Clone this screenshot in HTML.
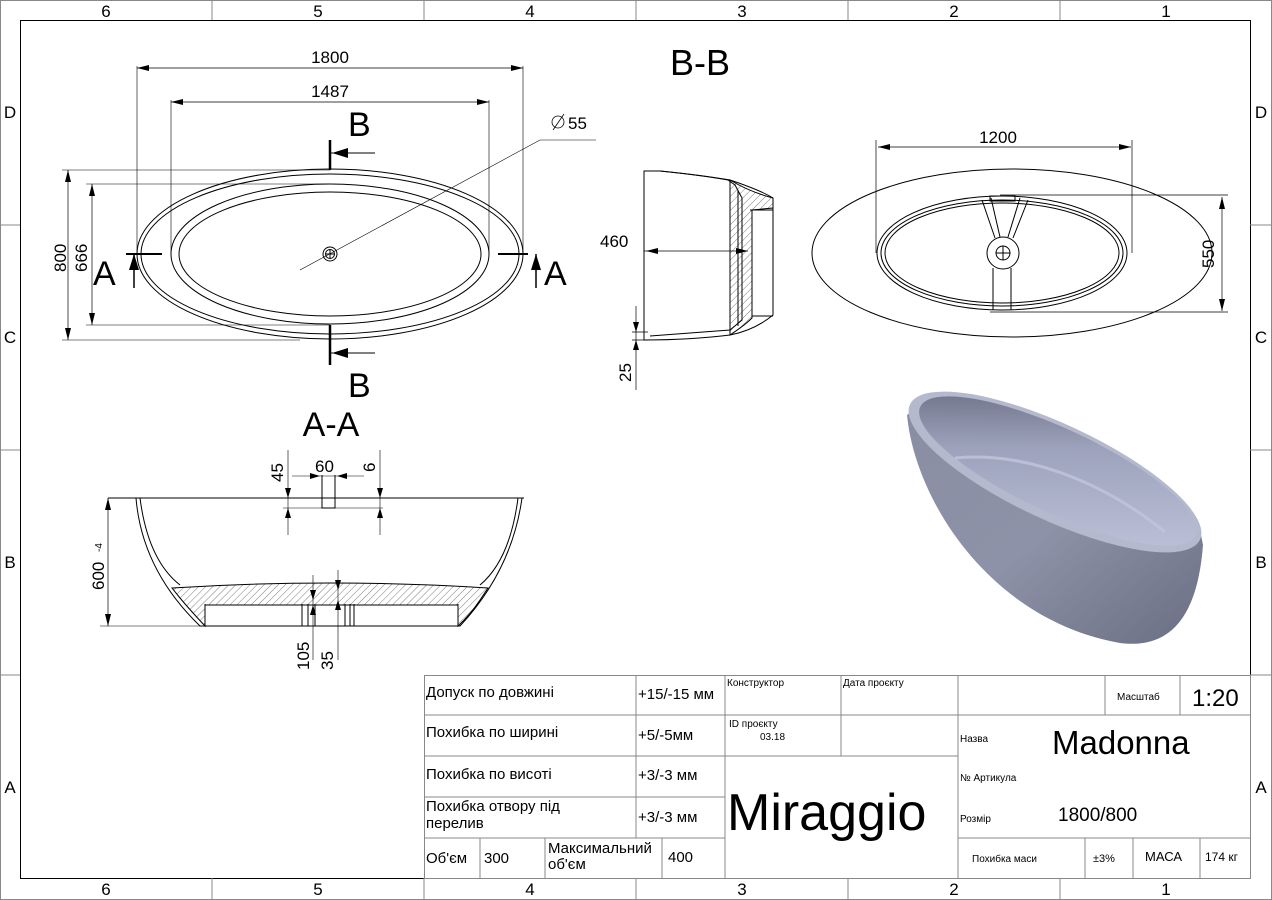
<!DOCTYPE html>
<html><head><meta charset="utf-8"><style>
html,body{margin:0;padding:0;background:#fff}
svg{display:block}
text{font-family:"Liberation Sans",sans-serif;fill:#000}
.t{font-family:"Liberation Sans","DejaVu Sans",sans-serif;font-size:14px}
</style></head><body>
<svg width="1272" height="900" viewBox="0 0 1272 900" xmlns="http://www.w3.org/2000/svg">
<defs>
<pattern id="h" width="5" height="5" patternUnits="userSpaceOnUse" patternTransform="rotate(45)"><line x1="0" y1="0" x2="0" y2="5" stroke="#444" stroke-width="0.7"/></pattern>
<linearGradient id="g1" x1="0" y1="0" x2="1" y2="1"><stop offset="0" stop-color="#8a8ea3"/><stop offset="0.5" stop-color="#8e92a8"/><stop offset="1" stop-color="#6a6e82"/></linearGradient>
<linearGradient id="g2" x1="0" y1="0" x2="1" y2="0.6"><stop offset="0" stop-color="#5f6376"/><stop offset="0.45" stop-color="#9da2bc"/><stop offset="1" stop-color="#b9bed6"/></linearGradient>
</defs>
<g fill="none" stroke="#000" stroke-width="1">
<rect x="0.5" y="0.5" width="1271" height="899" stroke="#888"/>
<rect x="20.5" y="20.5" width="1230" height="858"/>
<path d="M212 0V20M424 0V20M636 0V20M848 0V20M1060 0V20M212 878V899M424 878V899M636 878V899M848 878V899M1060 878V899M0 225H20M0 450H20M0 675H20M1250 225H1272M1250 450H1272M1250 675H1272" stroke="#888"/>
</g>
<g font-size="17" text-anchor="middle">
<text x="106" y="17">6</text><text x="318" y="17">5</text><text x="530" y="17">4</text><text x="742" y="17">3</text><text x="954" y="17">2</text><text x="1166" y="17">1</text>
<text x="106" y="895">6</text><text x="318" y="895">5</text><text x="530" y="895">4</text><text x="742" y="895">3</text><text x="954" y="895">2</text><text x="1166" y="895">1</text>
<text x="10" y="118">D</text><text x="10" y="343">C</text><text x="10" y="568">B</text><text x="10" y="793">A</text>
<text x="1261" y="118">D</text><text x="1261" y="343">C</text><text x="1261" y="568">B</text><text x="1261" y="793">A</text>
</g>

<!-- top view -->
<g fill="none" stroke="#000" stroke-width="1">
<ellipse cx="330" cy="254" rx="193" ry="85"/>
<ellipse cx="330" cy="254" rx="189" ry="80"/>
<ellipse cx="330" cy="254" rx="159" ry="70"/>
<ellipse cx="330" cy="254" rx="151" ry="62"/>
<circle cx="330" cy="254" r="7"/><circle cx="330" cy="254" r="4.5"/>
<path d="M325.5 254H334.5M330 249.5V258.5"/>
<path d="M137 66V254M523 66V254M171 100V254M489 100V254" stroke-width="0.6"/>
<path d="M137 68H523M171 102H489" stroke-width="0.7"/>
<path d="M62 170H330M62 340H300M86 184H330M86 325H330" stroke-width="0.6"/>
<path d="M68 170V340M92 184V325" stroke-width="0.7"/>
<path d="M300 270L540 140H596" stroke-width="0.6"/>
<path d="M330 140V170M330 325V365M330 340V352" stroke-width="2.5"/>
<path d="M330 153H375M330 353H375" stroke-width="1"/>
<path d="M126 254H162M498 254H528" stroke-width="2"/>
<path d="M134 254V288M536 254V288" stroke-width="1.5"/>
</g>
<g fill="#000">
<path d="M137 68l12-3v6zM523 68l-12-3v6zM171 102l12-3v6zM489 102l-12-3v6z"/>
<path d="M68 170l-3 12h6zM68 340l-3-12h6zM92 184l-3 12h6zM92 325l-3-12h6z"/>
<path d="M332 153l16-5v10zM332 353l16-5v10zM134 254l-5 16h10zM536 254l-5 16h10z"/>
</g>
<text x="330" y="63" font-size="17" text-anchor="middle">1800</text>
<text x="330" y="97" font-size="17" text-anchor="middle">1487</text>
<text x="348" y="136" font-size="34">B</text>
<text x="348" y="397" font-size="34">B</text>
<text x="93" y="285" font-size="34">A</text>
<text x="544" y="285" font-size="34">A</text>
<text x="568" y="129" font-size="17">55</text>
<g fill="none" stroke="#000" stroke-width="0.8"><circle cx="558" cy="122" r="6"/><path d="M553 130L564 114"/></g>
<text transform="translate(66 272) rotate(-90)" font-size="17">800</text>
<text transform="translate(87 272) rotate(-90)" font-size="17">666</text>
<text x="700" y="75" font-size="36" text-anchor="middle">B-B</text>
<text x="331" y="436" font-size="34" text-anchor="middle">A-A</text>

<!-- B-B section -->
<g fill="none" stroke="#000" stroke-width="1">
<path d="M644 171H660Q700 175 730 180Q760 190 773 198V315Q755 330 730 335Q690 340 644 340Z"/>
<path d="M730 180Q750 192 773 198V208L752 210V318Q745 325 730 335Z" fill="url(#h)"/>
<path d="M660 171Q700 175 728 180L735 185L742 198V320L730 330L650 336" />
<path d="M738 190V326M750 210H773M752 316H773"/>
<path d="M644 251H748" stroke-width="0.7"/>
<path d="M636 306V390M632 332H648M632 340H648" stroke-width="0.7"/>
</g>
<path d="M646 251l12-3v6zM748 251l-12-3v6zM636 332l-3-10h6zM636 340l-3 10h6z" fill="#000"/>
<text x="600" y="247" font-size="17">460</text>
<text transform="translate(631 382) rotate(-90)" font-size="17">25</text>

<!-- top right view -->
<g fill="none" stroke="#000" stroke-width="1">
<ellipse cx="1012" cy="253" rx="200" ry="84"/>
<ellipse cx="1002" cy="253" rx="125" ry="57"/>
<ellipse cx="1002" cy="253" rx="121" ry="53"/>
<ellipse cx="1002" cy="253" rx="117" ry="50"/>
<circle cx="1003" cy="253" r="16"/><circle cx="1003" cy="253" r="7"/>
<path d="M996 253H1010M1003 246V260"/>
<path d="M982 200L995 238M991 198L1000 237M1028 200L1013 238M1020 198L1008 237M993 268V310M1011 268V310"/>
<rect x="990" y="196" width="25" height="5"/>
<path d="M876 140V253M1132 140V253M878 147H1131M1000 195H1228M990 312H1228M1222 197V311" stroke-width="0.7"/>
</g>
<path d="M878 147l12-3v6zM1131 147l-12-3v6zM1222 197l-3 12h6zM1222 311l-3-12h6z" fill="#000"/>
<text x="998" y="143" font-size="17" text-anchor="middle">1200</text>
<text transform="translate(1214 268) rotate(-90)" font-size="17">550</text>

<!-- 3D -->
<path d="M907 415C915 500 990 620 1120 643C1175 650 1198 610 1203 545L1200 530L920 405Z" fill="url(#g1)"/>
<ellipse cx="1055" cy="472" rx="160" ry="48" transform="rotate(25 1055 472)" fill="#b5b9cd"/>
<ellipse cx="1058" cy="471" rx="152" ry="42" transform="rotate(25 1058 471)" fill="url(#g2)"/>
<path d="M955 458C1040 450 1120 495 1165 532" fill="none" stroke="#c2c6dc" stroke-width="3" opacity="0.8"/>

<!-- A-A section -->
<g fill="none" stroke="#000" stroke-width="1">
<path d="M108 498H524"/>
<path d="M136 498Q142 570 200 626H460Q512 570 522 498"/>
<path d="M140 498Q148 560 180 585M518 498Q510 560 480 585"/>
<path d="M172 588Q330 578 488 588L480 600Q470 615 458 626V605H205V626Q190 610 180 598Z" fill="url(#h)"/>
<path d="M205 604V626M458 604V626M302 604V626M308 604V626M350 604V626M354 604V626M315 604V626H345V604"/>
<path d="M100 626H210M160 498H136" stroke-width="0.6"/>
<path d="M108 498V626" stroke-width="0.7"/>
<path d="M322 475V508H335V475" />
<path d="M283 508H383M288 450V535M380 450V535M292 476H364M313 575V660M338 570V660" stroke-width="0.6"/>
</g>
<path d="M108 498l-3 12h6zM108 626l-3-12h6zM288 498l-3-10h6zM288 508l-3 10h6zM380 498l-3-10h6zM380 508l-3 10h6zM320 476l-10-3v6zM337 476l10-3v6zM313 600l-3-10h6zM338 590l-3-10h6zM338 600l-3 10h6zM313 605l-3 10h6z" fill="#000"/>
<text transform="translate(283 482) rotate(-90)" font-size="17">45</text>
<text x="315" y="472" font-size="17">60</text>
<text transform="translate(375 472) rotate(-90)" font-size="17">6</text>
<text transform="translate(104 590) rotate(-90)" font-size="17">600</text>
<text transform="translate(102 552) rotate(-90)" font-size="10">-4</text>
<text transform="translate(309 670) rotate(-90)" font-size="17">105</text>
<text transform="translate(333 670) rotate(-90)" font-size="17">35</text>

<!-- title block -->
<g fill="none" stroke="#888" stroke-width="1">
<rect x="424.5" y="675.5" width="826" height="203" fill="#fff"/>
<path d="M424 715H725M424 756H725M424 797H725M424 838H725M725 715H958M958 715H1250M958 838H1250M725 756H958"/>
<path d="M636 675V838M725 675V878M841 675V756M958 675V878M1105 675V715M1180 675V715M480 838V878M545 838V878M662 838V878M1085 838V878M1133 838V878M1200 838V878"/>
</g>
<g class="t">
<text x="426" y="697" font-size="15">Допуск по довжині</text>
<text x="638" y="699" font-size="15">+15/-15 мм</text>
<text x="426" y="737" font-size="15">Похибка по ширині</text>
<text x="638" y="740" font-size="15">+5/-5мм</text>
<text x="426" y="779" font-size="15">Похибка по висоті</text>
<text x="638" y="780" font-size="15">+3/-3 мм</text>
<text x="426" y="811" font-size="15">Похибка отвору під</text>
<text x="426" y="828" font-size="15">перелив</text>
<text x="638" y="822" font-size="15">+3/-3 мм</text>
<text x="426" y="863" font-size="15">Об'єм</text>
<text x="484" y="863" font-size="15">300</text>
<text x="548" y="853" font-size="15">Максимальний</text>
<text x="548" y="869" font-size="15">об'єм</text>
<text x="668" y="862" font-size="15">400</text>
<text x="727" y="686" font-size="10">Конструктор</text>
<text x="843" y="686" font-size="10">Дата проєкту</text>
<text x="729" y="727" font-size="10">ID проєкту</text>
<text x="760" y="740" font-size="10">03.18</text>
<text x="727" y="830" font-size="52">Miraggio</text>
<text x="1117" y="700" font-size="10">Масштаб</text>
<text x="1192" y="706" font-size="24">1:20</text>
<text x="960" y="742" font-size="10">Назва</text>
<text x="1052" y="754" font-size="33">Madonna</text>
<text x="960" y="781" font-size="10">№ Артикула</text>
<text x="960" y="822" font-size="10">Розмір</text>
<text x="1058" y="821" font-size="19">1800/800</text>
<text x="972" y="862" font-size="10">Похибка маси</text>
<text x="1093" y="862" font-size="11">±3%</text>
<text x="1145" y="861" font-size="13">МАСА</text>
<text x="1205" y="861" font-size="12">174 кг</text>
</g>
</svg>
</body></html>
